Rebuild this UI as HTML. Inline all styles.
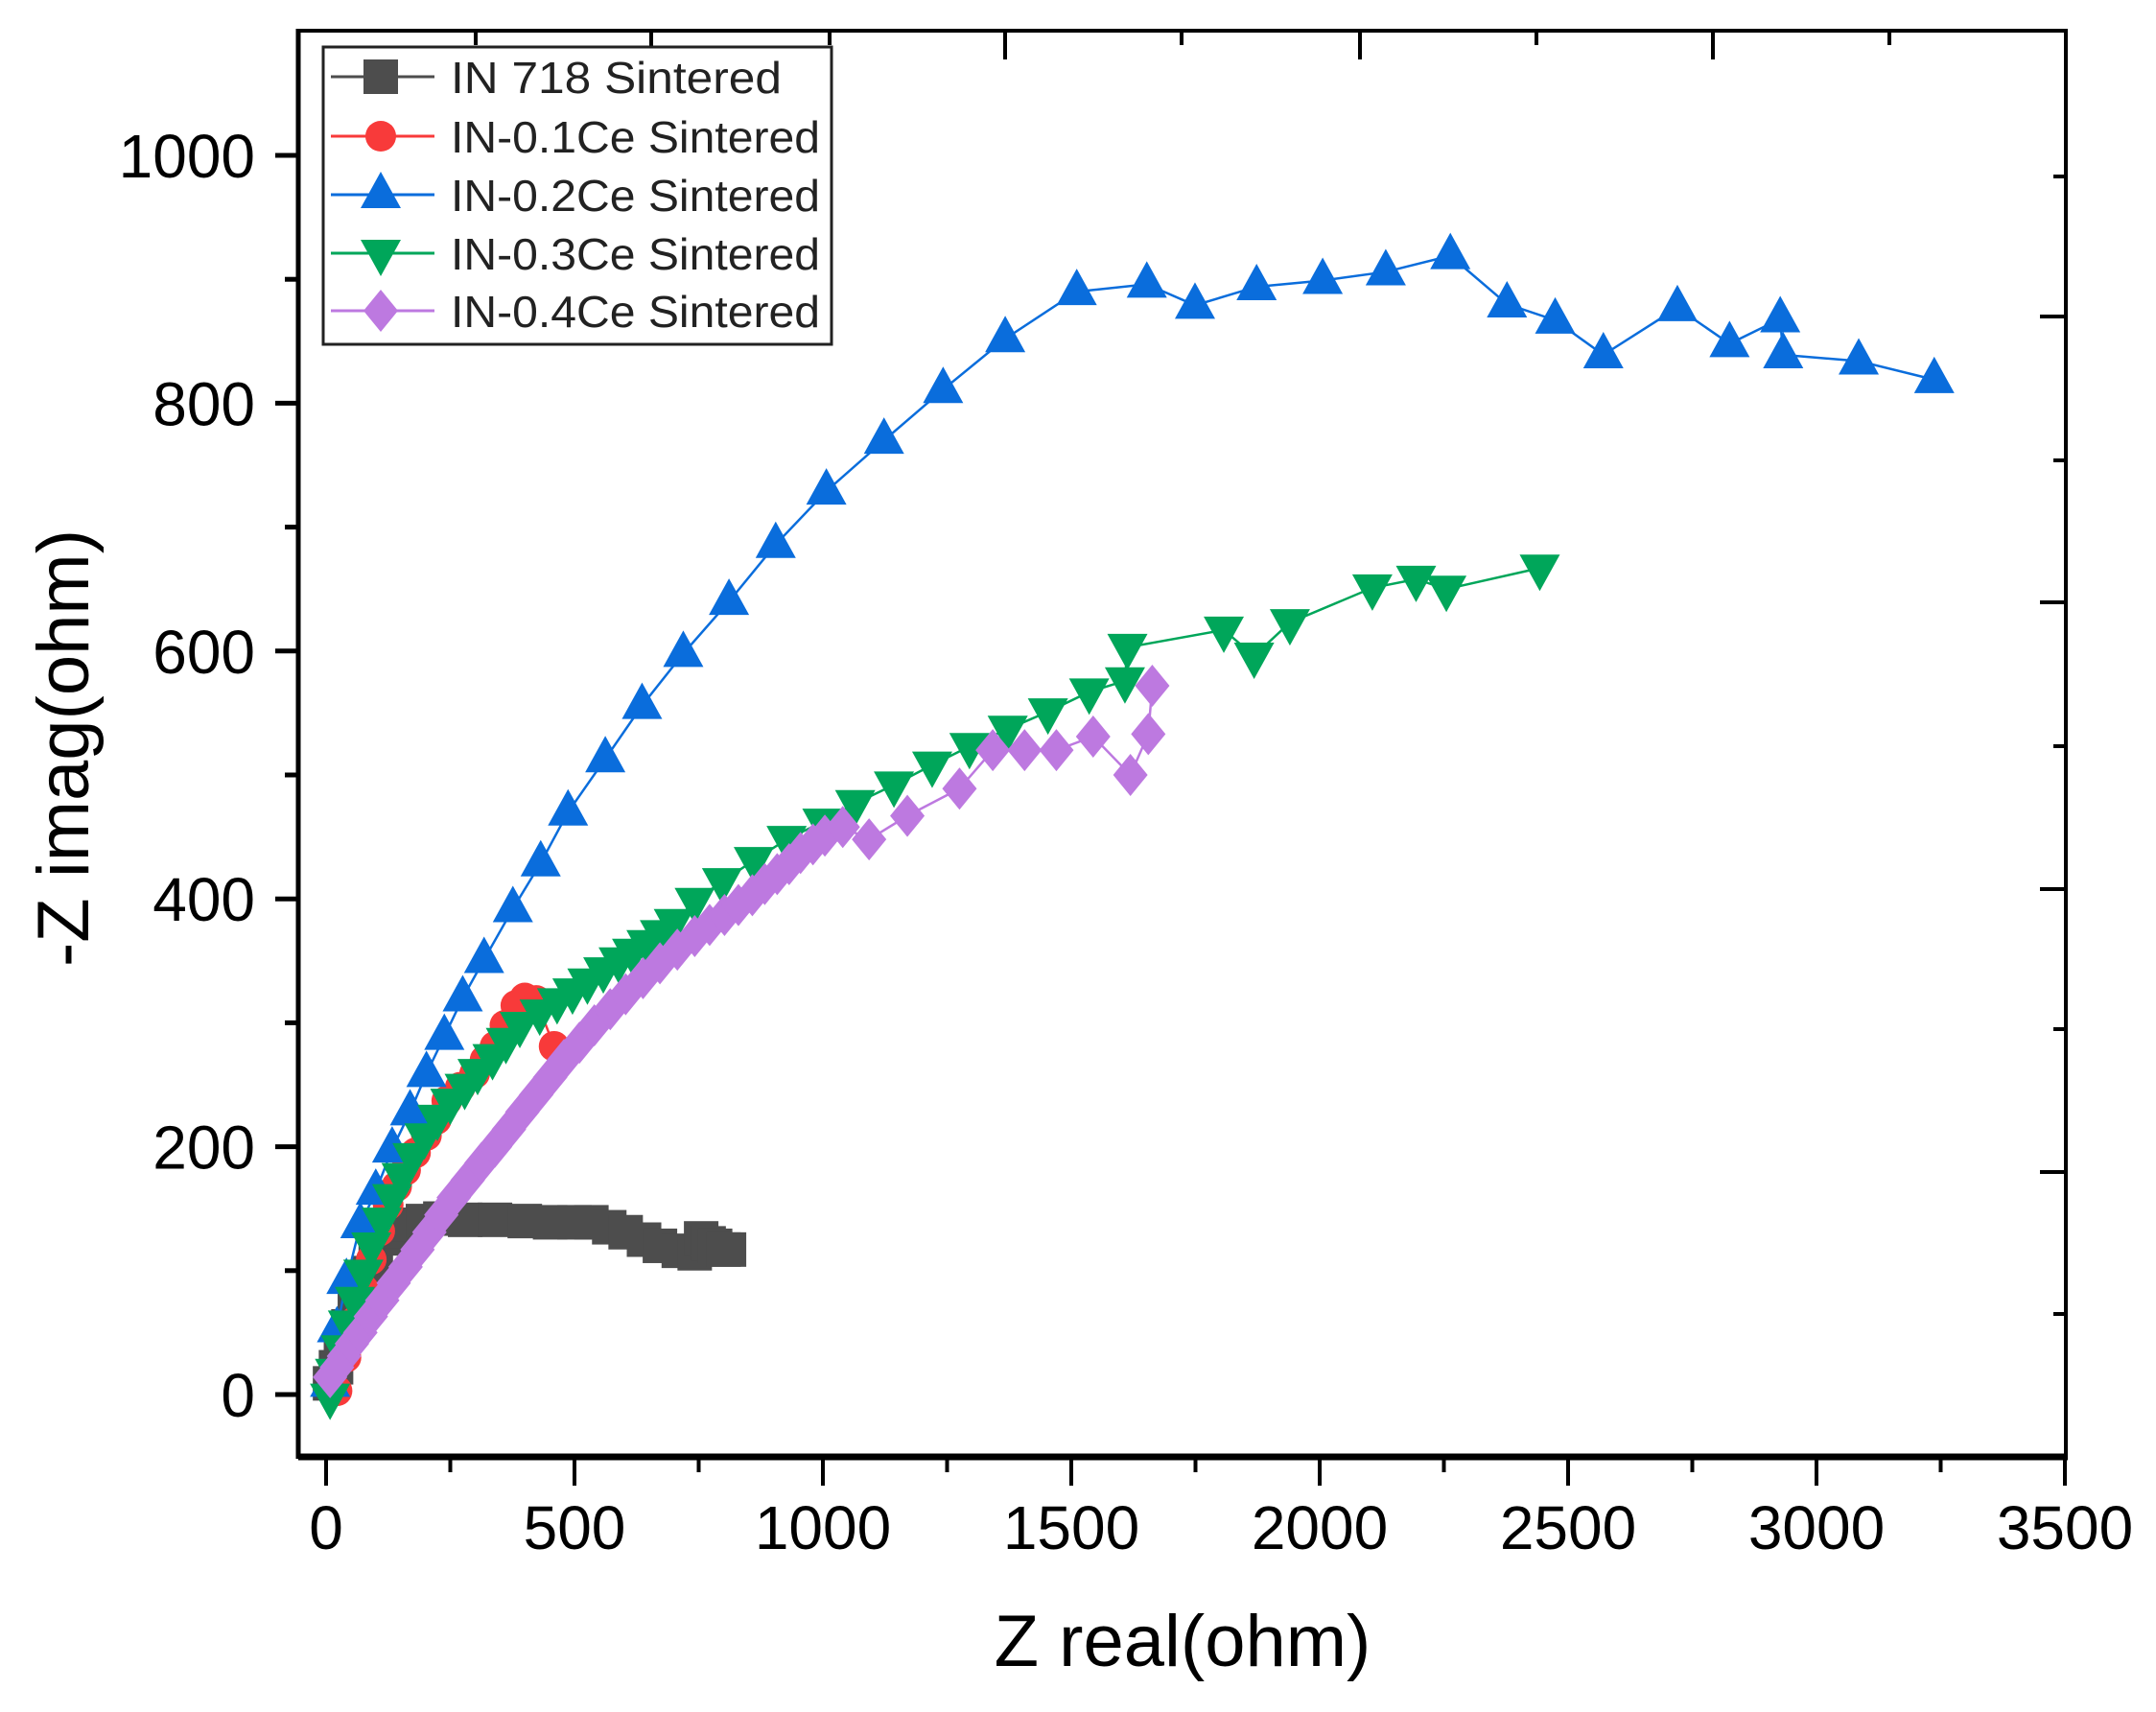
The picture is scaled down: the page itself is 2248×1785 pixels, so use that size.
<!DOCTYPE html>
<html><head><meta charset="utf-8"><style>
html,body{margin:0;padding:0;background:#fff}
svg{display:block}
text{font-family:"Liberation Sans",Arial,sans-serif}
</style></head><body>
<svg id="chart" width="2248" height="1785" viewBox="0 0 2248 1785">
<g id="marks"></g>
<g id="axes"></g>
<g id="legend"></g>
</svg>
<script>
const xTicks=[0,500,1000,1500,2000,2500,3000,3500];
const yTicks=[0,200,400,600,800,1000];
const seriesNames=["IN 718 Sintered","IN-0.1Ce Sintered","IN-0.2Ce Sintered","IN-0.3Ce Sintered","IN-0.4Ce Sintered"];
const blackX=[8,20,30,45,58,72,86,100,119,140,160,195,230,280,340,400,451,500,534,570,603,640,672,710,742,755,770,783,800,811];
const blackY=[9,22,37,55,70,85,98,112,126,132,137,140,142,141,141,140,139,139,139,135,131,125,120,116,114,126,122,120,117,117];
const redX=[22,40,58,75,91,108,125,142,160,180,202,222,243,270,299,320,340,360,382,400,423,459];
const redY=[3,30,59,85,109,132,153,168,181,195,209,222,237,248,259,270,281,298,314,320,318,281];
const blueX=[8,22,41,69,100,133,169,202,238,275,318,376,432,487,562,636,719,811,905,1007,1123,1242,1367,1511,1652,1749,1873,2006,2133,2263,2377,2474,2571,2720,2825,2927,2933,3085,3237];
const blueY=[9,53,92,137,164,198,228,259,289,320,351,392,429,470,513,556,598,640,686,729,770,811,852,890,896,879,894,899,906,919,880,867,839,877,848,868,839,834,819];
const greenX=[8,18,30,44,58,75,91,112,133,152,174,198,224,250,279,305,335,362,390,430,465,496,526,558,589,616,645,672,700,742,797,861,927,999,1065,1143,1220,1295,1372,1453,1536,1608,1613,1807,1868,1940,2106,2194,2255,2443];
const greenY=[-2,18,37,57,76,98,120,140,159,176,192,208,223,236,248,260,272,285,298,308,317,325,333,342,350,357,364,372,381,398,414,431,448,462,477,492,508,523,537,551,567,576,603,617,596,623,651,658,650,667];
const purpleX=[8,22,36,52,69,90,113,136,160,184,208,232,257,285,313,340,368,395,423,451,479,510,540,572,603,638,672,707,742,772,802,830,858,883,908,932,955,980,1004,1040,1093,1170,1275,1342,1406,1470,1544,1619,1655,1663];
const purpleY=[14,22,31,41,50,63,76,90,103,117,131,145,159,173,187,200,214,228,242,256,270,284,298,311,323,336,348,359,370,379,387,395,403,412,420,428,437,444,451,458,448,467,489,520,520,520,531,500,533,572];

const NS="http://www.w3.org/2000/svg";
const X0=340,X1=2153,Y0=1454,Y1=162;
function sx(v){return X0+(X1-X0)*v/3500;}
function sy(v){return Y0+(Y1-Y0)*v/1000;}
function mk(tag,attrs,parent){const e=document.createElementNS(NS,tag);for(const k in attrs)e.setAttribute(k,attrs[k]);parent.appendChild(e);return e;}
const marks=document.getElementById('marks');
const axes=document.getElementById('axes');
const legend=document.getElementById('legend');

function marker(type,cx,cy,color,parent){
  let e;
  if(type==='square'){e=mk('rect',{x:cx-18,y:cy-18,width:36,height:36,fill:color},parent);}
  else if(type==='circle'){e=mk('circle',{cx:cx,cy:cy,r:16,fill:color},parent);}
  else if(type==='up'){e=mk('polygon',{points:`${cx},${cy-24} ${cx-21},${cy+14} ${cx+21},${cy+14}`,fill:color},parent);}
  else if(type==='down'){e=mk('polygon',{points:`${cx},${cy+24} ${cx-21},${cy-14} ${cx+21},${cy-14}`,fill:color},parent);}
  else {e=mk('polygon',{points:`${cx},${cy-22} ${cx-18},${cy} ${cx},${cy+22} ${cx+18},${cy}`,fill:color},parent);}
  return e;
}
const styles=[
 {xs:blackX,ys:blackY,color:'#4d4d4d',type:'square',name:'in718'},
 {xs:redX,ys:redY,color:'#f83a3a',type:'circle',name:'ce01'},
 {xs:blueX,ys:blueY,color:'#0a6ddc',type:'up',name:'ce02'},
 {xs:greenX,ys:greenY,color:'#00a65a',type:'down',name:'ce03'},
 {xs:purpleX,ys:purpleY,color:'#bd79e0',type:'diamond',name:'ce04'}
];
styles.forEach(s=>{
  const g=mk('g',{},marks);
  
  
  const pts=s.xs.map((x,i)=>sx(x)+','+sy(s.ys[i])).join(' ');
  const pl=mk('polyline',{points:pts,fill:'none',stroke:s.color,'stroke-width':2.5},g);
  
  
  s.xs.forEach((x,i)=>{
    const m=marker(s.type,sx(x),sy(s.ys[i]),s.color,g);
    
    
  });
});

const fr=mk('rect',{x:311,y:32,width:1843,height:1487,fill:'none',stroke:'#000','stroke-width':4},axes);


mk('line',{x1:311,y1:1519,x2:2156,y2:1519,stroke:'#000','stroke-width':7},axes);
mk('line',{x1:311,y1:30,x2:311,y2:1521,stroke:'#000','stroke-width':5},axes);
for(let v=0;v<=3500;v+=250){
  const major=(v%500===0);
  mk('line',{x1:sx(v),y1:1519,x2:sx(v),y2:1519+(major?30:16),stroke:'#000','stroke-width':4},axes);
}
xTicks.forEach(v=>{
  const t=mk('text',{x:sx(v),y:1615,'font-size':64,'text-anchor':'middle',fill:'#000'},axes);
  t.textContent=v;
  
  
});
for(let v=0;v<=1000;v+=100){
  const major=(v%200===0);
  mk('line',{x1:311,y1:sy(v),x2:311-(major?24:14),y2:sy(v),stroke:'#000','stroke-width':5},axes);
}
yTicks.forEach(v=>{
  const t=mk('text',{x:266,y:sy(v)+23,'font-size':64,'text-anchor':'end',fill:'#000'},axes);
  t.textContent=v;
  
  
});
[496,679,865,1048,1232,1418,1602,1786,1970].forEach((x,i)=>{
  mk('line',{x1:x,y1:32,x2:x,y2:32+(i%2===0?15:30),stroke:'#000','stroke-width':4},axes);
});
[184,330,480,628,778,927,1073,1222,1370].forEach((y,i)=>{
  mk('line',{x1:2154,y1:y,x2:2154-(i%2===1?27:13),y2:y,stroke:'#000','stroke-width':4},axes);
});
const xt=mk('text',{x:1233,y:1737,'font-size':76,'text-anchor':'middle',fill:'#000'},axes);
xt.textContent='Z real(ohm)';


const yt=mk('text',{x:0,y:0,'font-size':76,'text-anchor':'middle',fill:'#000',transform:'translate(92,780) rotate(-90)'},axes);
yt.textContent='-Z imag(ohm)';



const lb=mk('rect',{x:337,y:49,width:530,height:310,fill:'#fff',stroke:'#222','stroke-width':3},legend);


const ly=[80,142,203,264,324];
styles.forEach((s,i)=>{
  const g=mk('g',{},legend);
  
  
  mk('line',{x1:345,y1:ly[i],x2:453,y2:ly[i],stroke:s.color,'stroke-width':3},g);
  marker(s.type,397,ly[i],s.color,g);
  const t=mk('text',{x:470,y:ly[i]+17,'font-size':46,fill:'#222',textLength:(i===0?345:385),lengthAdjust:'spacingAndGlyphs'},g);
  t.textContent=seriesNames[i];
});
</script>
</body></html>
